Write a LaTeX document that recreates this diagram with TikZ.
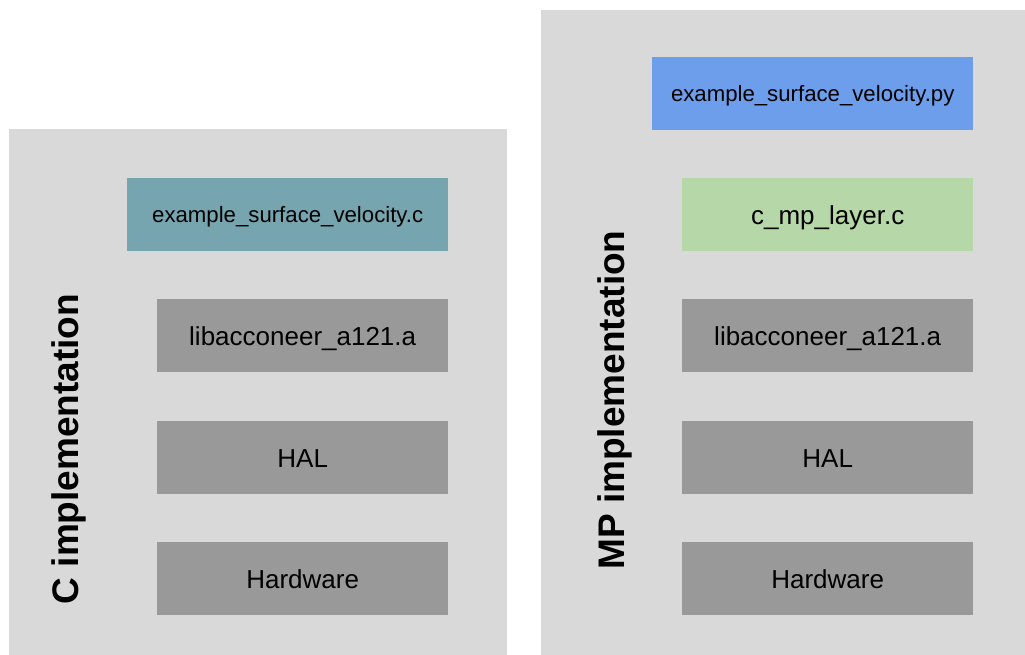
\documentclass[tikz,border=0pt]{standalone}
\usepackage{fontspec}
\setmainfont{Liberation Sans}
\definecolor{panelgray}{HTML}{D9D9D9}
\definecolor{layergray}{HTML}{999999}
\definecolor{tealbox}{HTML}{76A5AF}
\definecolor{bluebox}{HTML}{6D9EEB}
\definecolor{greenbox}{HTML}{B6D7A8}
\begin{document}
\begin{tikzpicture}[x=1pt,y=-1pt,
  panelbox/.style={fill=panelgray, draw=none, anchor=north west, inner sep=0pt},
  layer/.style={draw=none, anchor=north west, inner sep=0pt, minimum height=73pt,
    minimum width=291pt, fill=layergray, text=black,
    font=\fontsize{26}{30}\selectfont, text height=19pt, text depth=0pt},
  applayer/.style={layer, minimum width=321pt, font=\fontsize{22.2}{26}\selectfont, text height=16pt},
  vlabel/.style={rotate=90, anchor=base, inner sep=0pt, text=black,
    font=\bfseries\fontsize{37}{40}\selectfont}]
\useasboundingbox (0,0) rectangle (1025,655);
% panels
\node[panelbox, minimum width=498pt, minimum height=526pt] (cpanel) at (9,129) {};
\node[panelbox, minimum width=484pt, minimum height=645pt] (mppanel) at (541,10) {};
% C implementation
\node[applayer, fill=tealbox] (capp) at (127,178) {example\_surface\_velocity.c};
\node[layer] (clib) at (157,299) {libacconeer\_a121.a};
\node[layer] (chal) at (157,421) {HAL};
\node[layer] (chw) at (157,542) {Hardware};
\node[vlabel] (clabel) at (78,449) {C implementation};
% MP implementation
\node[applayer, fill=bluebox] (mpapp) at (652,57) {example\_surface\_velocity.py};
\node[layer, fill=greenbox] (mplayer) at (682,178) {c\_mp\_layer.c};
\node[layer] (mplib) at (682,299) {libacconeer\_a121.a};
\node[layer] (mphal) at (682,421) {HAL};
\node[layer] (mphw) at (682,542) {Hardware};
\node[vlabel] (mplabel) at (624,400) {MP implementation};
\end{tikzpicture}
\end{document}
